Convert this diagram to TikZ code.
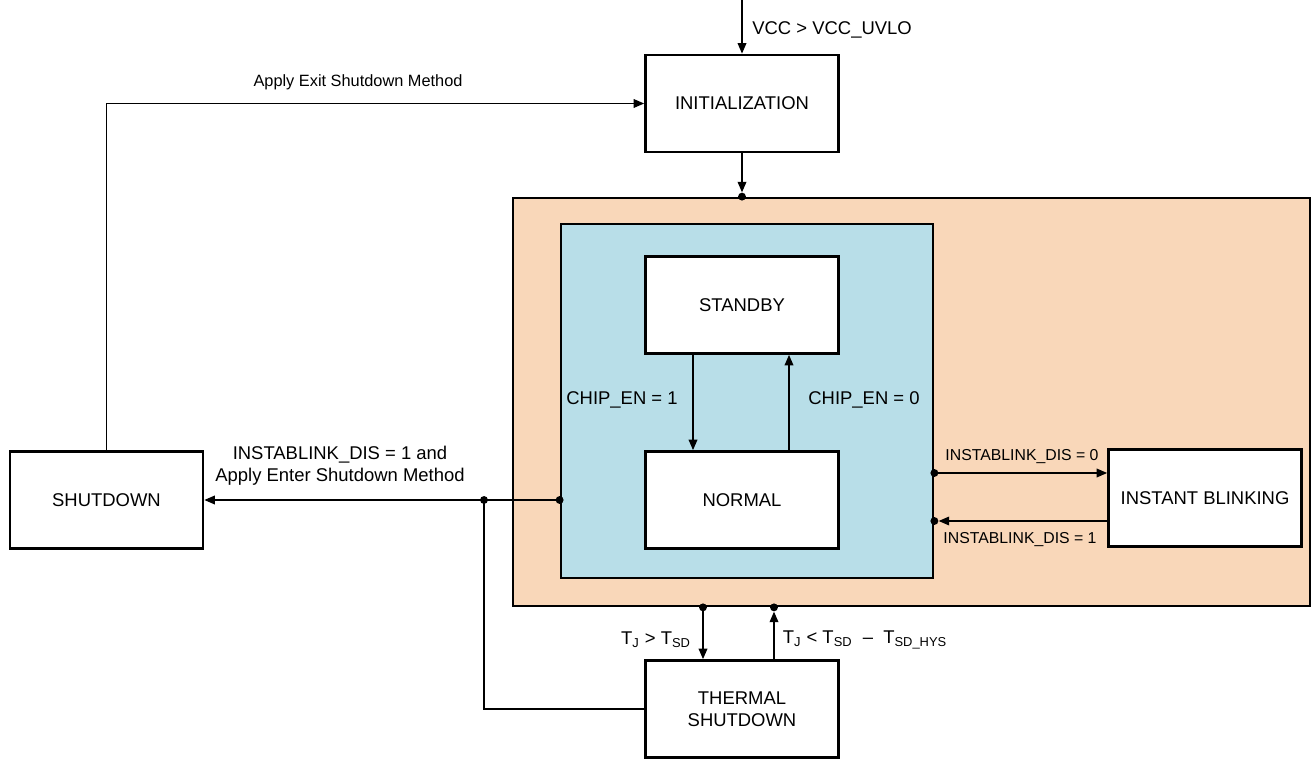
\documentclass[tikz,border=0pt]{standalone}
\usepackage{fontspec}
\setmainfont{Liberation Sans}
\usetikzlibrary{arrows.meta,calc}
\definecolor{outerfill}{HTML}{F9D7B9}
\definecolor{innerfill}{HTML}{B8DEE8}
\tikzset{
    box/.style={draw,line width=1.6pt,fill=white,minimum width=3.86cm,minimum height=1.94cm,
        align=center,font=\fontsize{10.5}{12.5}\selectfont},
    region/.style={draw,line width=1.6pt},
    lbl/.style={inner sep=0pt,align=center,font=\fontsize{10.5}{12.5}\selectfont},
    small lbl/.style={lbl,font=\fontsize{9}{11}\selectfont},
    arr/.style={line width=0.7pt,-{Triangle[length=6pt,width=5pt]}},
    wire/.style={line width=0.7pt},
    dot/.style={circle,fill,inner sep=0pt,minimum size=4.5pt}
}
\begin{document}
\begin{tikzpicture}[x=0.02cm,y=-0.02cm]
        \useasboundingbox (0,0) rectangle (1311,759);
        % regions
        \node[region,fill=outerfill,minimum width=15.94cm,minimum height=8.16cm] (outer) at (911.5,402) {};
        \node[region,fill=innerfill,minimum width=7.44cm,minimum height=7.08cm] (inner) at (747,401) {};
        % states
        \node[box] (init) at (742,103.5) {INITIALIZATION};
        \node[box] (standby) at (742,305) {STANDBY};
        \node[box] (normal) at (742,500) {NORMAL};
        \node[box] (shutdown) at (106.5,500) {SHUTDOWN};
        \node[box] (blink) at (1205,498) {INSTANT BLINKING};
        \node[box] (thermal) at (742,709) {THERMAL\\SHUTDOWN};
        % junctions
        \coordinate (vcc) at (742,0);
        \node[dot] (dtop) at (init.south |- outer.north) {};
        \node[dot] (dleft) at (inner.west |- normal) {};
        \node[dot] (dtap) at (484,500) {};
        \node[dot] (dbout) at (inner.east |- 0,473) {};
        \node[dot] (dbin) at (inner.east |- 0,521) {};
        \node[dot] (dtdown) at (703,0 |- outer.south) {};
        \node[dot] (dtup) at (774,0 |- outer.south) {};
        % transitions
        \draw[arr] (vcc) -- (init.north);
        \node[lbl,anchor=west] (vcclbl) at (752,30) {VCC > VCC\_UVLO};
        \draw[arr] (init.south) -- (dtop);
        \draw[arr] (shutdown.north) |- (init.west);
        \node[lbl,font=\fontsize{9.3}{11}\selectfont] (exitlbl) at (358,82) {Apply Exit Shutdown Method};
        \draw[arr] (dleft.center) -- (shutdown.east);
        \node[lbl] (enterlbl) at (340,466) {INSTABLINK\_DIS = 1 and\\Apply Enter Shutdown Method};
        \draw[wire] (dtap.center) |- (thermal.west);
        \draw[arr] ($(standby.south)+(-49,0)$) -- ($(normal.north)+(-49,0)$);
        \node[lbl] (en1lbl) at (622,400) {CHIP\_EN = 1};
        \draw[arr] ($(normal.north)+(47,0)$) -- ($(standby.south)+(47,0)$);
        \node[lbl] (en0lbl) at (864,400) {CHIP\_EN = 0};
        \draw[arr] (dbout.center) -- (blink.west |- dbout);
        \node[small lbl] (dis0lbl) at (1022,457) {INSTABLINK\_DIS = 0};
        \draw[arr] (blink.west |- dbin) -- (dbin);
        \node[small lbl] (dis1lbl) at (1020,540) {INSTABLINK\_DIS = 1};
        \draw[arr] (dtdown.center) -- (thermal.north -| dtdown);
        \node[lbl] (tsdlbl) at (656,640) {T\textsubscript{J} > T\textsubscript{SD}};
        \draw[arr] (thermal.north -| dtup) -- (dtup);
        \node[lbl] (hyslbl) at (865,640) {T\textsubscript{J} < T\textsubscript{SD} \ –\ \ T\textsubscript{SD\_HYS}};
\end{tikzpicture}
\end{document}
